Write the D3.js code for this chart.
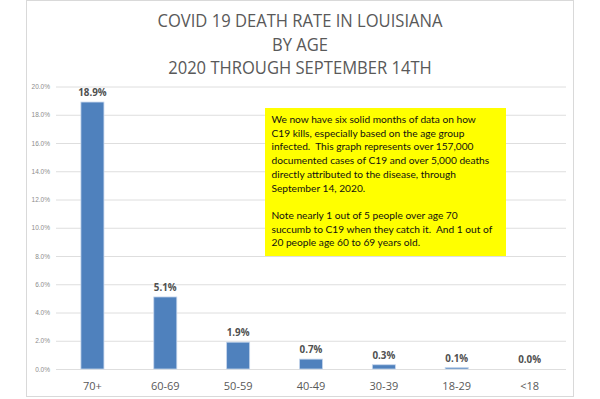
<!DOCTYPE html>
<html><head><meta charset="utf-8">
<script src="https://cdn.jsdelivr.net/npm/d3@7"></script>
<style>html,body{margin:0;padding:0;background:#fff;}svg{display:block;}</style>
</head><body>
<svg id="c" width="600" height="399"></svg>
<script>
const categories = ["70+","60-69","50-59","40-49","30-39","18-29","<18"];
const rates = [18.9, 5.1, 1.9, 0.7, 0.3, 0.1, 0.0];
const yTicks = [0,2,4,6,8,10,12,14,16,18,20];
const titleLines = ["COVID 19 DEATH RATE IN LOUISIANA","BY AGE","2020 THROUGH SEPTEMBER 14TH"];
const noteLines = [
 "We now have six solid months of data on how",
 "C19 kills, especially based on the age group",
 "infected.  This graph represents over 157,000",
 "documented cases of C19 and over 5,000 deaths",
 "directly attributed to the disease, through",
 "September 14, 2020.",
 "",
 "Note nearly 1 out of 5 people over age 70",
 "succumb to C19 when they catch it.  And 1 out of",
 "20 people age 60 to 69 years old."
];

(function(){
const svg = d3.select("#c");
svg.append("rect").attr("x",26.5).attr("y",0.5).attr("width",547).attr("height",396)
  .attr("fill","#fff").attr("stroke","#d9d9d9").attr("stroke-width",1);

const pL=56, pR=566, pT=86.5, pB=369;
const x = d3.scaleBand().domain(categories).range([pL,pR]).paddingInner(0.684).paddingOuter(0.342);
const y = d3.scaleLinear().domain([0,20]).range([pB,pT]);

// title
const tt = svg.append("g").selectAll("text").data(titleLines).join("text")
  .attr("x",300).attr("y",(d,i)=>27.3+i*23.4).attr("text-anchor","middle")
  .attr("font-family","'Open Sans', sans-serif").attr("font-weight",400).attr("font-size",18.3)
  .attr("fill","#595959").text(d=>d);
const w0 = tt.node().getComputedTextLength();
if (w0>0) { const k = 285/w0; tt.each(function(){ const w=this.getComputedTextLength(); d3.select(this).attr("textLength", w*k).attr("lengthAdjust","spacingAndGlyphs"); }); }

// grid
const yAxis = d3.axisLeft(y).tickValues(yTicks).tickSize(-(pR-pL)).tickFormat(d=>d.toFixed(1)+"%");
const gy = svg.append("g").attr("transform",`translate(${pL},0)`).call(yAxis);
gy.select(".domain").remove();
gy.selectAll(".tick line").attr("stroke","#dedede").attr("stroke-width",1);
gy.selectAll(".tick text").attr("x",-6).attr("fill","#8c8c8c")
  .attr("font-family","'Liberation Sans', sans-serif").attr("font-size",6.5);

// bars
svg.append("g").selectAll("rect").data(rates).join("rect")
  .attr("x",(d,i)=>x(categories[i])).attr("width",x.bandwidth())
  .attr("y",d=>y(d)).attr("height",d=>Math.max(0,pB-y(d)))
  .attr("fill","#4f81bd").attr("stroke","#c6d6ec").attr("stroke-width",0.8);

// value labels
svg.append("g").selectAll("text").data(rates).join("text")
  .attr("x",(d,i)=>x(categories[i])+x.bandwidth()/2).attr("y",d=>y(d)-6)
  .attr("text-anchor","middle").attr("font-family","'Open Sans', sans-serif")
  .attr("font-weight",700).attr("font-size",9.8).attr("fill","#505050")
  .text(d=>d.toFixed(1)+"%");

// x axis labels
const xAxis = d3.axisBottom(x).tickSize(0);
const gx = svg.append("g").attr("transform",`translate(0,${pB})`).call(xAxis);
gx.select(".domain").remove();
gx.selectAll(".tick text").attr("y",13).attr("fill","#595959")
  .attr("font-family","'Open Sans', sans-serif").attr("font-size",11);

// note box
svg.append("rect").attr("x",265).attr("y",108).attr("width",241).attr("height",148).attr("fill","#ffff00");
const nt = svg.append("g").selectAll("text").data(noteLines).join("text")
  .attr("x",271.5).attr("y",(d,i)=>123+i*13.7)
  .attr("font-family","'Lato', sans-serif").attr("font-size",11).attr("fill","#111")
  .attr("xml:space","preserve").style("white-space","pre").text(d=>d);
const target = 221;
let maxw = 0; nt.each(function(){maxw=Math.max(maxw,this.getComputedTextLength());});
if (maxw>0) nt.attr("font-size", 11*target/maxw);
})();
</script>
</body></html>
